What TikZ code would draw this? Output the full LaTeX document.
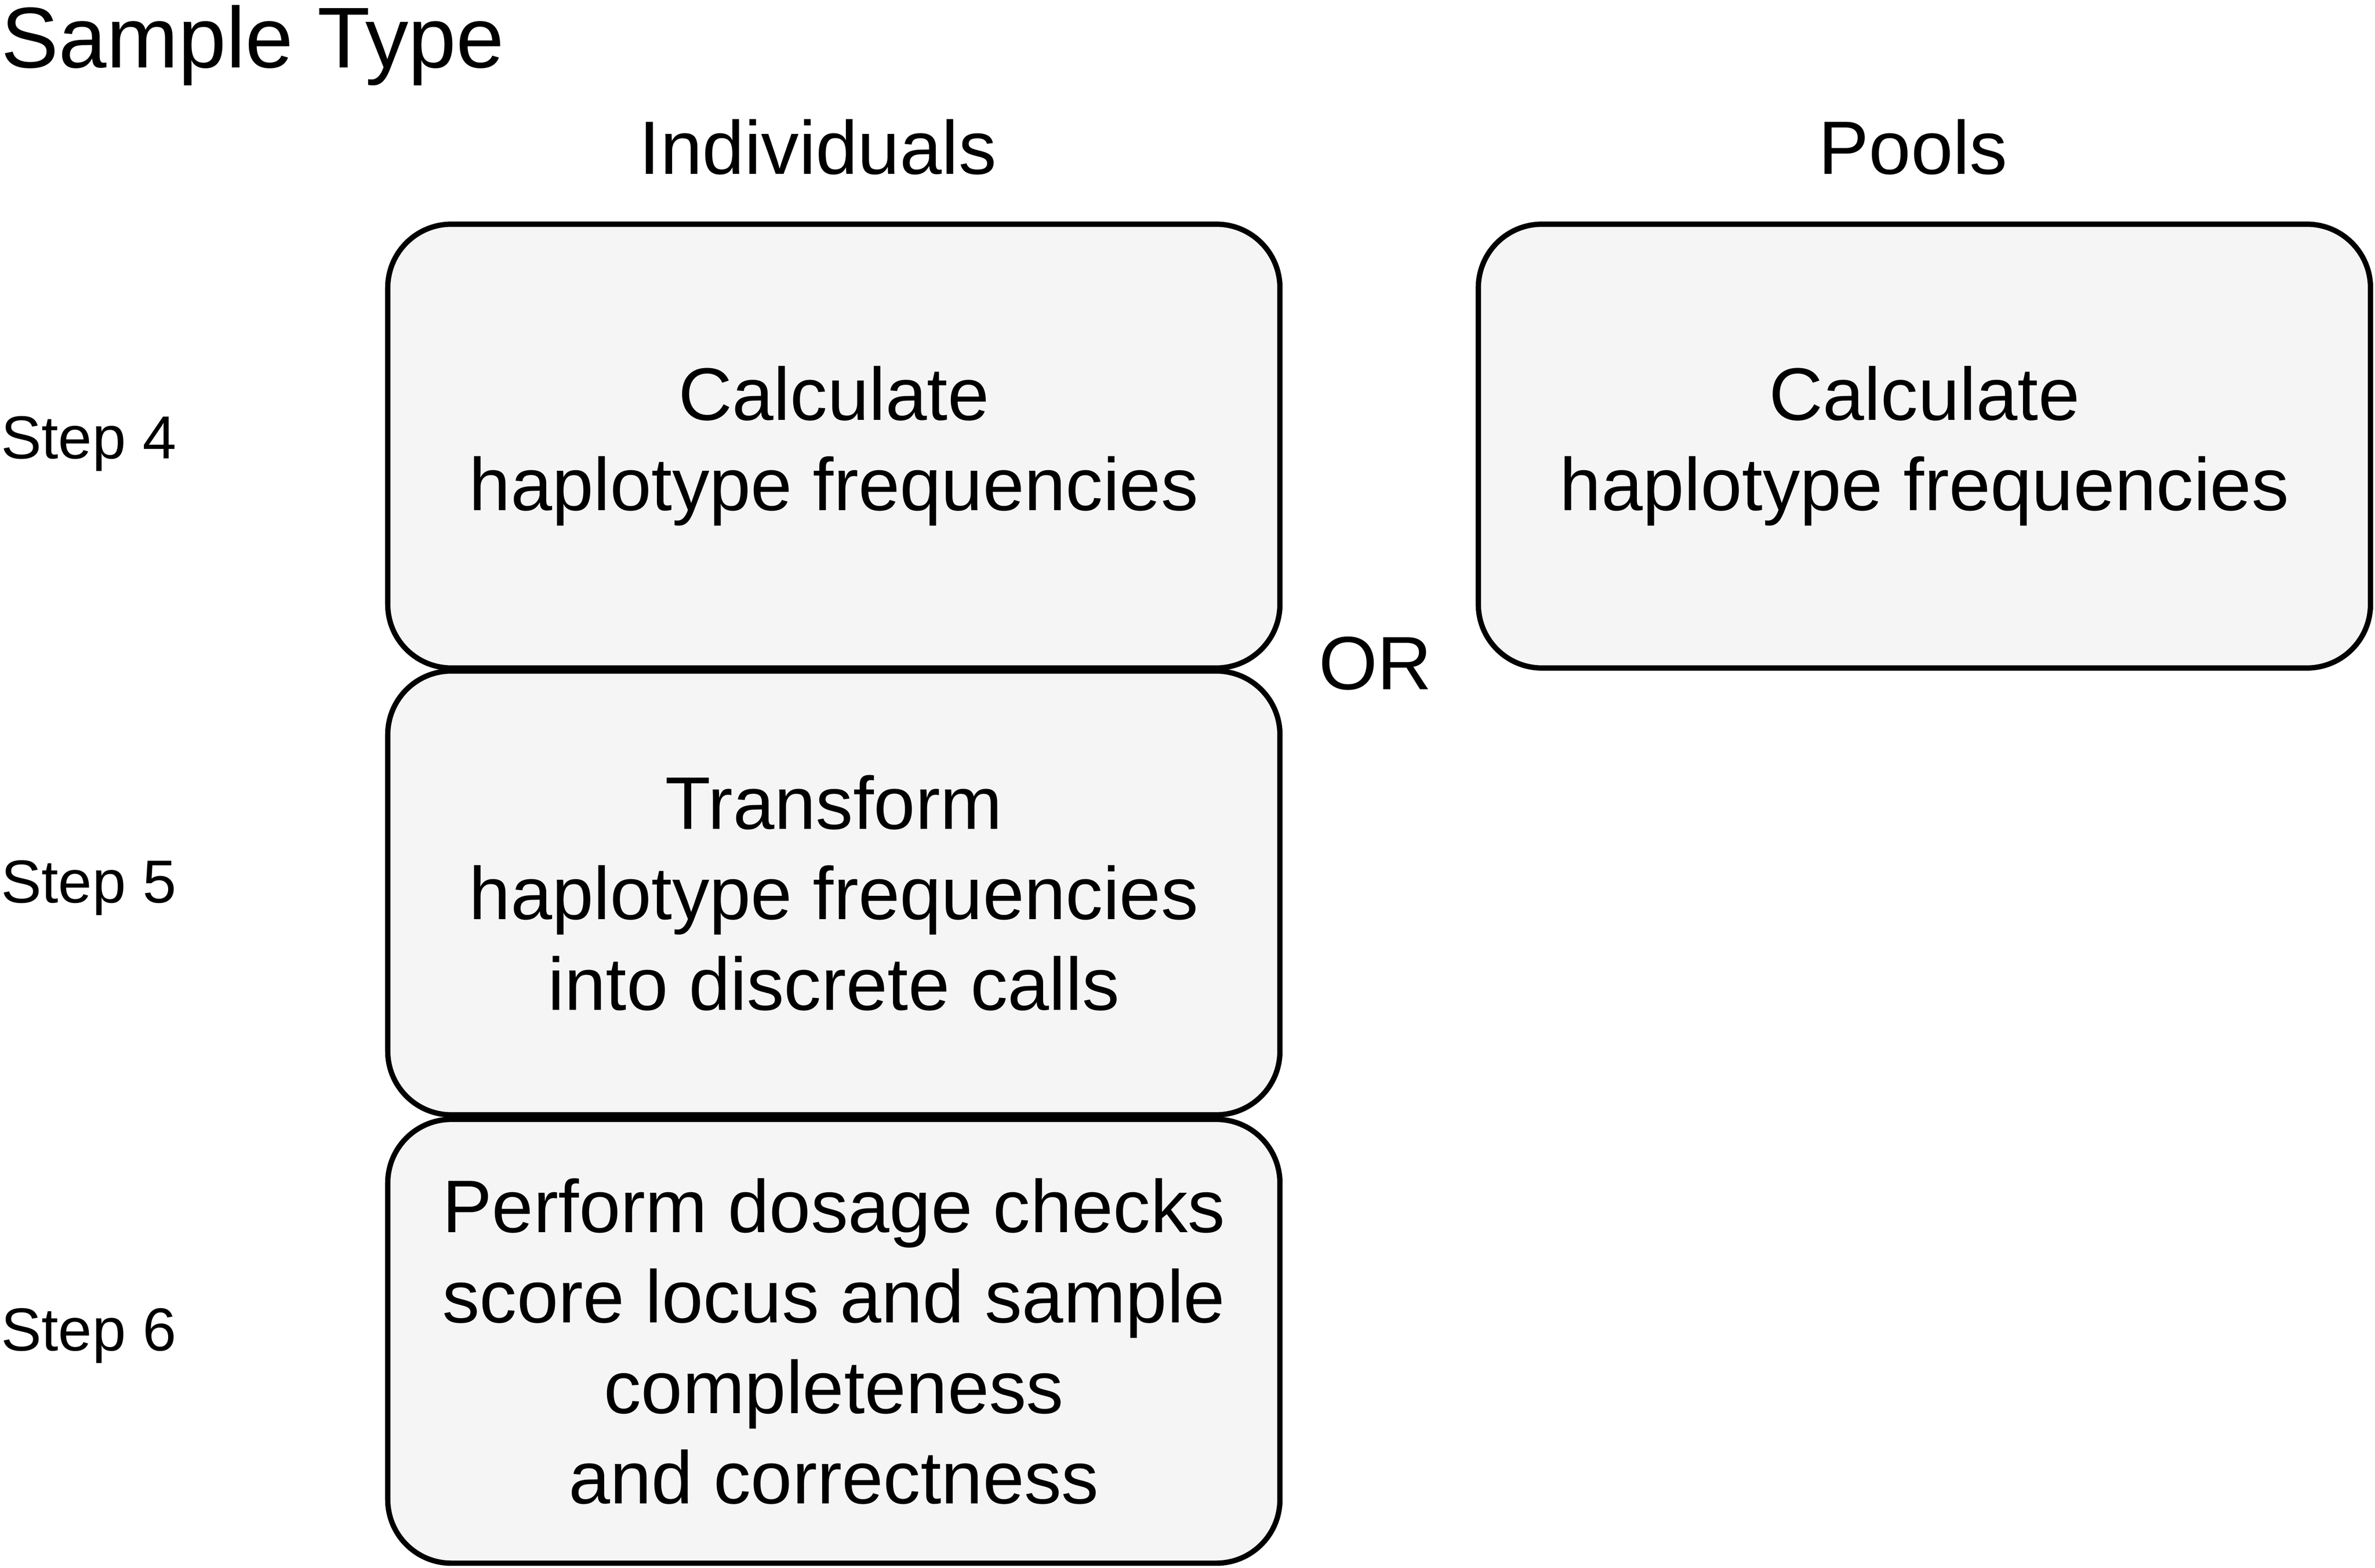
\documentclass[tikz,border=0pt]{standalone}
\usepackage{fontspec}
\setmainfont{Liberation Sans}
\usetikzlibrary{positioning}
\definecolor{boxgray}{HTML}{F5F5F5}
\tikzset{
  stepbox/.style={draw,line width=1pt,rounded corners=0.42cm,fill=boxgray,
    minimum width=5.89cm,minimum height=2.93cm,align=center,
    font=\fontsize{14}{17}\selectfont},
  head/.style={font=\fontsize{14.2}{17}\selectfont},
  steplabel/.style={anchor=west,font=\fontsize{11.4}{13}\selectfont}
}
\begin{document}
\begin{tikzpicture}
	\useasboundingbox (0,0) rectangle (15.68,10.35);
	\node[anchor=west,inner sep=0pt,font=\fontsize{16.2}{19}\selectfont] (title) at (0,10.05) {Sample Type};
	\node[head] (ind) at (5.40,9.38) {Individuals};
	\node[head] (pools) at (12.63,9.38) {Pools};
	
	\node[stepbox] (calc) at (5.505,7.405) {Calculate\\haplotype frequencies};
	\node[stepbox] (trans) at (5.505,4.455) {Transform\\haplotype frequencies\\into discrete calls};
	\node[stepbox] (dose) at (5.505,1.495) {Perform dosage checks\\score locus and sample\\completeness\\and correctness};
	\node[stepbox] (poolcalc) at (12.705,7.405) {Calculate\\haplotype frequencies};
	
	\node[head] (or) at (9.08,5.97) {OR};
	
	\node[steplabel,inner sep=0pt] (s4) at (0,7.42) {Step 4};
	\node[steplabel,inner sep=0pt] (s5) at (0,4.49) {Step 5};
	\node[steplabel,inner sep=0pt] (s6) at (0,1.53) {Step 6};
\end{tikzpicture}
\end{document}
